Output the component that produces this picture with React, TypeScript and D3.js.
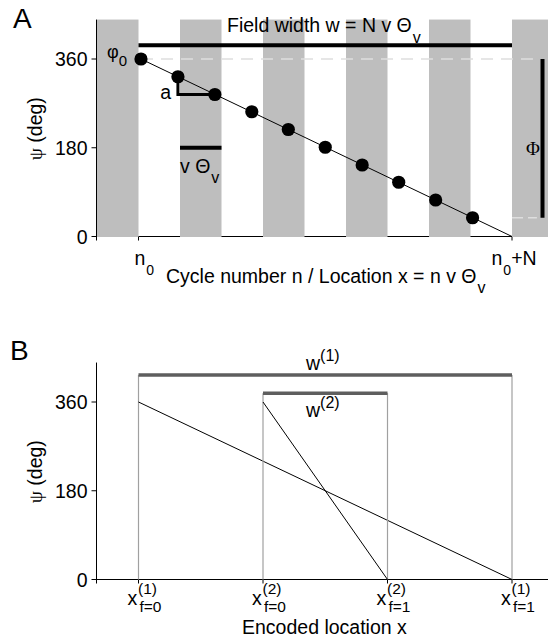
import React, { useEffect, useRef } from "react";
import * as d3 from "d3";

// panel A: phase precession over one field
const phaseTicks = [0, 180, 360];
const stripeStarts = [-1, 1, 3, 5, 7, 9]; // gray theta cycles
const dotCycles = [0.06, 0.95, 1.84, 2.73, 3.61, 4.5, 5.39, 6.27, 7.16, 8.05];
const dotPhases = [360, 324, 288, 253, 217, 181, 145, 110, 74, 38];
const cycleTicks = [0, 9];

// panel B: two fields with different widths
const fieldStart = [0, 3];
const fieldEnd = [9, 6];
const fieldBarLevel = [415, 378];
const fieldNames = ["(1)", "(2)"];
const locTicks = [0, 3, 6, 9];
const locSup = ["(1)", "(2)", "(2)", "(1)"];
const locSub = ["f=0", "f=0", "f=1", "f=1"];

const SANS = "Liberation Sans, Arial, Helvetica, sans-serif";
const SERIF = "Liberation Serif, Times New Roman, serif";

const App = () => {
  const ref = useRef<SVGSVGElement>(null);

  useEffect(() => {
    draw();
  });

  let draw = () => {
    let svg = d3.select(ref.current);
    svg.selectAll("*").remove();

    let x = d3.scaleLinear().domain([0, 9]).range([138.5, 512]);
    let yA = d3.scaleLinear().domain([0, 360]).range([236.5, 59]);
    let yB = d3.scaleLinear().domain([0, 360]).range([579.5, 402]);
    let top = 440;
    let left = x(-1) - 0.5;

    // ---------- panel A ----------
    let a = svg.append("g");

    // axes frame (mostly covered by the stripes)
    a.append("line").attr("x1", left).attr("x2", left)
      .attr("y1", yA(top)).attr("y2", yA(0) + 4).attr("stroke", "black");
    a.append("line").attr("x1", left).attr("x2", x(9))
      .attr("y1", yA(0)).attr("y2", yA(0)).attr("stroke", "black");
    a.selectAll(".xt").data(cycleTicks).enter().append("line")
      .attr("x1", (d) => x(d)).attr("x2", (d) => x(d))
      .attr("y1", yA(0)).attr("y2", yA(0) + 4).attr("stroke", "black");
    a.selectAll(".yt").data(phaseTicks).enter().append("line")
      .attr("x1", left - 5).attr("x2", left)
      .attr("y1", (d) => yA(d)).attr("y2", (d) => yA(d)).attr("stroke", "black");
    a.selectAll(".yl").data(phaseTicks).enter().append("text")
      .attr("x", 87.5).attr("y", (d) => yA(d) + 7)
      .attr("text-anchor", "end").attr("font-size", 19.5)
      .text((d) => d);

    a.selectAll(".stripe").data(stripeStarts).enter().append("rect")
      .attr("x", (d) => x(d)).attr("width", x(1) - x(0))
      .attr("y", yA(top)).attr("height", yA(0) + 0.5 - yA(top))
      .attr("fill", "#bebebe");

    // dashed phase limits
    let last = dotPhases.length - 1;
    a.append("line").attr("x1", x(dotCycles[0])).attr("x2", x(9.6))
      .attr("y1", yA(dotPhases[0])).attr("y2", yA(dotPhases[0]))
      .attr("stroke", "#dedede").attr("stroke-width", 1.5).attr("stroke-dasharray", "12,8");
    a.append("line").attr("x1", x(9)).attr("x2", x(9.6))
      .attr("y1", yA(dotPhases[last])).attr("y2", yA(dotPhases[last]))
      .attr("stroke", "#dedede").attr("stroke-width", 1.5).attr("stroke-dasharray", "11,5");

    // field width bar
    a.append("line").attr("x1", x(0)).attr("x2", x(9))
      .attr("y1", yA(388)).attr("y2", yA(388))
      .attr("stroke", "black").attr("stroke-width", 4);

    // Phi range bar
    a.append("line").attr("x1", 542.5).attr("x2", 542.5)
      .attr("y1", yA(dotPhases[0])).attr("y2", yA(dotPhases[last]))
      .attr("stroke", "black").attr("stroke-width", 4);

    // one cycle bar
    a.append("line").attr("x1", x(1)).attr("x2", x(2))
      .attr("y1", yA(180)).attr("y2", yA(180))
      .attr("stroke", "black").attr("stroke-width", 4);

    // slope bracket "a"
    a.append("path")
      .attr("d", d3.line()([
        [x(dotCycles[1]), yA(dotPhases[1])],
        [x(dotCycles[1]), yA(dotPhases[2])],
        [x(dotCycles[2]), yA(dotPhases[2])],
      ]))
      .attr("fill", "none").attr("stroke", "black").attr("stroke-width", 3);

    // precession line + spikes
    a.append("line").attr("x1", x(dotCycles[0])).attr("x2", x(9))
      .attr("y1", yA(dotPhases[0])).attr("y2", yA(0))
      .attr("stroke", "black").attr("stroke-width", 1);
    a.selectAll(".dot").data(dotCycles).enter().append("circle")
      .attr("cx", (d) => x(d)).attr("cy", (d, i) => yA(dotPhases[i]))
      .attr("r", 6.6).attr("fill", "black");

    // labels
    a.append("text").attr("x", 13).attr("y", 28).attr("font-size", 28).text("A");

    let fw = a.append("text").attr("x", 227).attr("y", 31.5).attr("font-size", 19.5);
    fw.append("tspan").text("Field width w = N v \u0398");
    fw.append("tspan").attr("dy", 11).attr("dx", 1).attr("font-size", 16).text("v");

    let p0 = a.append("text").attr("x", 107).attr("y", 58);
    p0.append("tspan").attr("font-size", 18).text("\u03c6");
    p0.append("tspan").attr("dy", 8).attr("font-size", 15).text("0");

    a.append("text").attr("x", 171).attr("y", 99).attr("text-anchor", "end")
      .attr("font-size", 19.5).text("a");

    let vt = a.append("text").attr("x", 180).attr("y", 173).attr("font-size", 19.5);
    vt.append("tspan").text("v \u0398");
    vt.append("tspan").attr("dy", 10).attr("dx", 1).attr("font-size", 16).text("v");

    a.append("text").attr("x", 540).attr("y", 155).attr("text-anchor", "end")
      .attr("font-family", SERIF).attr("font-size", 19).text("\u03a6");

    let n0 = a.append("text").attr("x", x(0) - 4).attr("y", 265).attr("font-size", 19.5);
    n0.append("tspan").text("n");
    n0.append("tspan").attr("dy", 10).attr("dx", 1).attr("font-size", 14).text("0");
    let nN = a.append("text").attr("x", x(9) - 20.5).attr("y", 265).attr("font-size", 19.5);
    nN.append("tspan").text("n");
    nN.append("tspan").attr("dy", 10).attr("dx", 1).attr("font-size", 14).text("0");
    nN.append("tspan").attr("dy", -10).text("+N");

    let xl = a.append("text").attr("x", 166).attr("y", 283).attr("font-size", 19.5);
    xl.append("tspan").text("Cycle number n / Location x = n v \u0398");
    xl.append("tspan").attr("dy", 10).attr("dx", 1).attr("font-size", 16).text("v");

    let yla = a.append("text")
      .attr("transform", `translate(42,${yA(180) - 19}) rotate(-90)`)
      .attr("text-anchor", "middle").attr("font-size", 19.5);
    yla.append("tspan").attr("font-family", SERIF).text("\u03c8");
    yla.append("tspan").text(" (deg)");

    // ---------- panel B ----------
    let b = svg.append("g");

    b.append("line").attr("x1", left).attr("x2", left)
      .attr("y1", yB(top)).attr("y2", yB(0) + 4).attr("stroke", "black");
    b.append("line").attr("x1", left).attr("x2", 548)
      .attr("y1", yB(0)).attr("y2", yB(0)).attr("stroke", "black");
    b.selectAll(".yt").data(phaseTicks).enter().append("line")
      .attr("x1", left - 5).attr("x2", left)
      .attr("y1", (d) => yB(d)).attr("y2", (d) => yB(d)).attr("stroke", "black");
    b.selectAll(".yl").data(phaseTicks).enter().append("text")
      .attr("x", 87.5).attr("y", (d) => yB(d) + 7)
      .attr("text-anchor", "end").attr("font-size", 19.5)
      .text((d) => d);
    b.selectAll(".xt").data(locTicks).enter().append("line")
      .attr("x1", (d) => x(d)).attr("x2", (d) => x(d))
      .attr("y1", yB(0)).attr("y2", yB(0) + 4).attr("stroke", "black");

    // field boundaries
    fieldStart.forEach((s, i) => {
      let e = fieldEnd[i];
      let lv = fieldBarLevel[i];
      [s, e].forEach((v) => {
        b.append("line").attr("x1", x(v)).attr("x2", x(v))
          .attr("y1", yB(lv)).attr("y2", yB(0))
          .attr("stroke", "#a0a0a0").attr("stroke-width", 1.2);
      });
      b.append("line").attr("x1", x(s)).attr("x2", x(e))
        .attr("y1", yB(lv)).attr("y2", yB(lv))
        .attr("stroke", "#5e5e5e").attr("stroke-width", 3.5);
      b.append("line").attr("x1", x(s)).attr("x2", x(e))
        .attr("y1", yB(360)).attr("y2", yB(0))
        .attr("stroke", "black").attr("stroke-width", 1);
    });

    fieldNames.forEach((nm, i) => {
      let base = i === 0 ? yB(fieldBarLevel[i]) - 5 : yB(fieldBarLevel[i]) + 24;
      let t = b.append("text").attr("x", 306).attr("y", base).attr("font-size", 19.5);
      t.append("tspan").text("w");
      t.append("tspan").attr("dy", -9).attr("font-size", 16).text(nm);
    });

    locTicks.forEach((v, i) => {
      b.append("text").attr("x", x(v) - 11).attr("y", 604.5).attr("font-size", 19.5).text("x");
      b.append("text").attr("x", x(v) - 0.5).attr("y", 593.5).attr("font-size", 15.5).text(locSup[i]);
      b.append("text").attr("x", x(v) + 1).attr("y", 611.5).attr("font-size", 15.5).text(locSub[i]);
    });

    b.append("text").attr("x", 242).attr("y", 633.5).attr("font-size", 19.5)
      .text("Encoded location x");

    b.append("text").attr("x", 10).attr("y", 360).attr("font-size", 28).text("B");

    let ylb = b.append("text")
      .attr("transform", `translate(42,${yB(180) - 19}) rotate(-90)`)
      .attr("text-anchor", "middle").attr("font-size", 19.5);
    ylb.append("tspan").attr("font-family", SERIF).text("\u03c8");
    ylb.append("tspan").text(" (deg)");
  };

  return (
    <svg
      ref={ref}
      width={548}
      height={638}
      style={{ position: "absolute", left: 0, top: 0, fontFamily: SANS, background: "white" }}
    />
  );
};

export default App;
